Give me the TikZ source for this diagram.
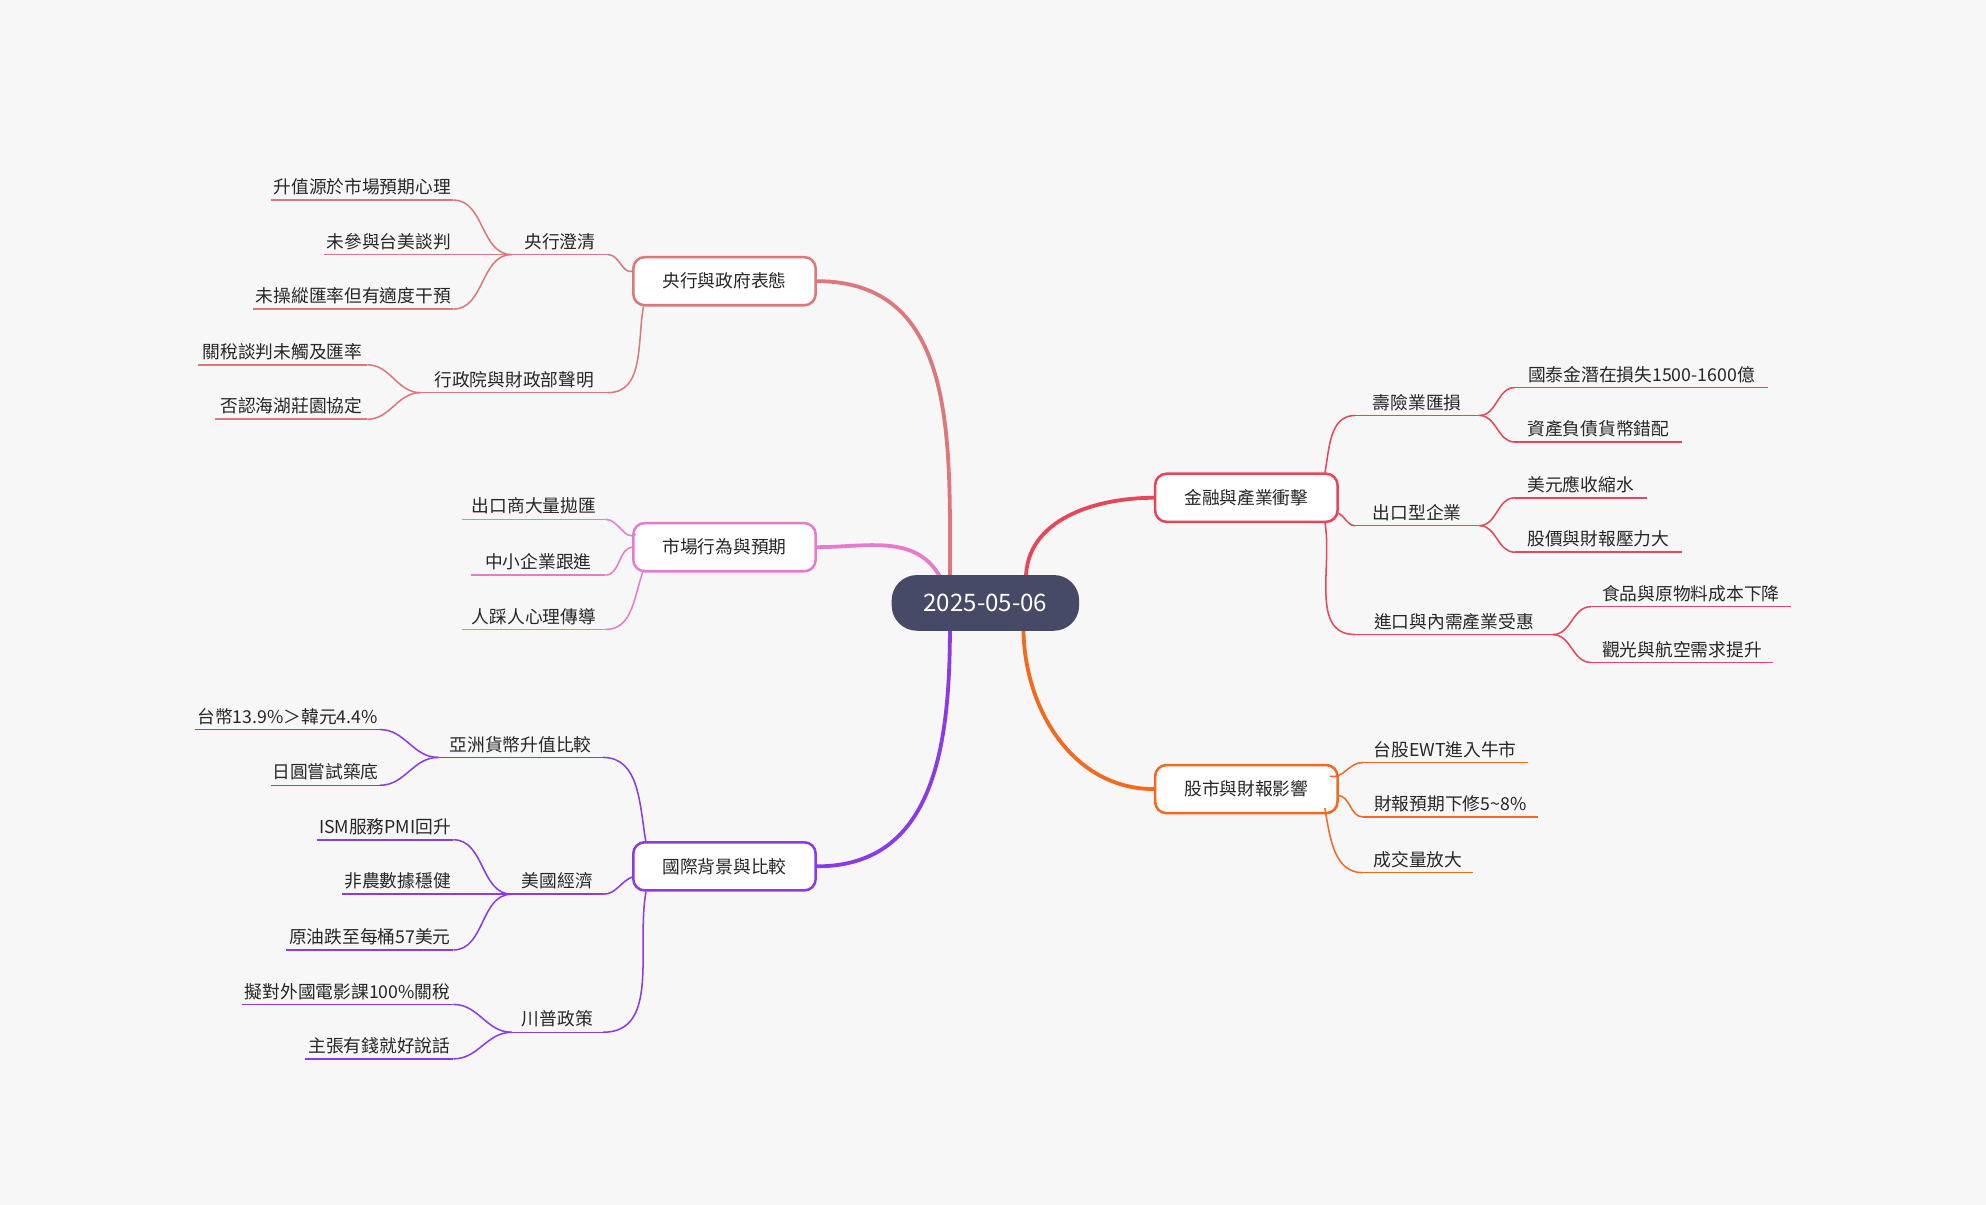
\documentclass[tikz,border=0pt]{standalone}
\usepackage{fontspec}
\setmainfont{Noto Sans CJK TC}
\definecolor{bg}{HTML}{F7F7F7}
\definecolor{rootc}{HTML}{474A66}
\definecolor{ca}{HTML}{DC777B}
\definecolor{cb}{HTML}{E67BCB}
\definecolor{cc}{HTML}{8A3BE6}
\definecolor{cd}{HTML}{E5465A}
\definecolor{ce}{HTML}{F3691F}
\tikzset{
 lbl/.style={font=\fontsize{14}{16}\selectfont, text=black!85, inner sep=0pt, anchor=base},
 mainbox/.style={draw, line width=2pt, rounded corners=9pt, fill=white, minimum width=144pt, minimum height=38pt, font=\fontsize{14}{16}\selectfont, text=black!85},
 ln/.style={line width=1.2pt},
}
% color, name, text, xl, xr, yline
\newcommand\lf[6]{%
 \coordinate (#2l) at (#4,#6); \coordinate (#2r) at (#5,#6);
 \node[lbl] (#2) at ({(#4+#5)/2},#6-5) {#3};
 \draw[ln,#1] (#2l) -- (#2r);}
\newcommand\cv[3]{\draw[ln,#1] (#2) to[out=0,in=180] (#3);}
\begin{document}
\begin{tikzpicture}[x=1pt,y=-1pt]
\fill[bg] (0,0) rectangle (1568,951);
\useasboundingbox (0,0) rectangle (1568,951);
% main curves
\coordinate (rt1) at (750,457); \coordinate (rt2) at (742,455);
\coordinate (rt3) at (750,495); \coordinate (rt4) at (810,457); \coordinate (rt5) at (808,495);
\node[mainbox,draw=ca] (A) at (572,222) {央行與政府表態};
\node[mainbox,draw=cb] (B) at (572,432) {市場行為與預期};
\node[mainbox,draw=cc] (C) at (572,684) {國際背景與比較};
\node[mainbox,draw=cd] (D) at (984,393) {金融與產業衝擊};
\node[mainbox,draw=ce] (E) at (984,623) {股市與財報影響};
\draw[ca,line width=3pt] (A.east) to[out=0,in=90,looseness=1.1] (rt1);
\draw[cb,line width=3pt] (B.east) to[out=0,in=120] (rt2);
\draw[cc,line width=3pt] (C.east) to[out=0,in=-90,looseness=1.1] (rt3);
\draw[cd,line width=3pt] (D.west) to[out=180,in=90] (rt4);
\draw[ce,line width=3pt] (E.west) to[out=180,in=-90] (rt5);
\node[fill=rootc, rounded corners=20pt, minimum width=148pt, minimum height=44pt, text=white, font=\fontsize{19}{22}\selectfont] (R) at (778,476) {2025-05-06};
% A
\coordinate (Aa) at (500,214); \coordinate (Ab) at (508,242);
\lf{ca}{a1}{央行澄清}{404}{480}{201}
\lf{ca}{a11}{升值源於市場預期心理}{214}{358}{158}
\lf{ca}{a12}{未參與台美談判}{256}{358}{201}
\lf{ca}{a13}{未操縱匯率但有適度干預}{200}{358}{244}
\cv{ca}{a11r}{a1l}\cv{ca}{a12r}{a1l}\cv{ca}{a13r}{a1l}
\draw[ln,ca] (a1r) to[out=0,in=200] (Aa);
\lf{ca}{a2}{行政院與財政部聲明}{332}{480}{310}
\lf{ca}{a21}{關稅談判未觸及匯率}{156}{290}{288}
\lf{ca}{a22}{否認海湖莊園協定}{170}{290}{331}
\cv{ca}{a21r}{a2l}\cv{ca}{a22r}{a2l}
\draw[ln,ca] (a2r) to[out=0,in=260] (Ab);
% B
\coordinate (Ba) at (502,422); \coordinate (Bb) at (500,432); \coordinate (Bc) at (508,450);
\lf{cb}{b1}{出口商大量拋匯}{365}{478}{410}
\lf{cb}{b2}{中小企業跟進}{372}{478}{454}
\lf{cb}{b3}{人踩人心理傳導}{365}{478}{497}
\draw[ln,cb] (b1r) to[out=0,in=210] (Ba);
\draw[ln,cb] (b2r) to[out=0,in=180] (Bb);
\draw[ln,cb] (b3r) to[out=0,in=250] (Bc);
% C
\coordinate (Ca) at (510,665); \coordinate (Cb) at (500,692); \coordinate (Cc) at (510,704);
\lf{cc}{c1}{亞洲貨幣升值比較}{346}{476}{598}
\lf{cc}{c11}{台幣13.9\%＞韓元4.4\%}{154}{300}{576}
\lf{cc}{c12}{日圓嘗試築底}{214}{300}{620}
\cv{cc}{c11r}{c1l}\cv{cc}{c12r}{c1l}
\draw[ln,cc] (c1r) to[out=0,in=100] (Ca);
\lf{cc}{c2}{美國經濟}{404}{476}{706}
\lf{cc}{c21}{ISM服務PMI回升}{250}{358}{663}
\lf{cc}{c22}{非農數據穩健}{270}{358}{706}
\lf{cc}{c23}{原油跌至每桶57美元}{226}{358}{750}
\cv{cc}{c21r}{c2l}\cv{cc}{c22r}{c2l}\cv{cc}{c23r}{c2l}
\draw[ln,cc] (c2r) to[out=0,in=200] (Cb);
\lf{cc}{c3}{川普政策}{404}{476}{815}
\lf{cc}{c31}{擬對外國電影課100\%關稅}{191}{358}{793}
\lf{cc}{c32}{主張有錢就好說話}{241}{358}{836}
\cv{cc}{c31r}{c3l}\cv{cc}{c32r}{c3l}
\draw[ln,cc] (c3r) to[out=0,in=260] (Cc);
% D
\coordinate (Da) at (1046,374); \coordinate (Db) at (1056,405); \coordinate (Dc) at (1046,412);
\lf{cd}{d1}{壽險業匯損}{1070}{1168}{328}
\lf{cd}{d11}{國泰金潛在損失1500-1600億}{1196}{1396}{306}
\lf{cd}{d12}{資產負債貨幣錯配}{1196}{1328}{349}
\draw[ln,cd] (Da) to[out=80,in=180] (d1l);
\draw[ln,cd] (d1r) to[out=0,in=180] (d11l); \draw[ln,cd] (d1r) to[out=0,in=180] (d12l);
\lf{cd}{d2}{出口型企業}{1070}{1168}{415}
\lf{cd}{d21}{美元應收縮水}{1196}{1300}{393}
\lf{cd}{d22}{股價與財報壓力大}{1196}{1328}{436}
\draw[ln,cd] (Db) to[out=-20,in=180] (d2l);
\draw[ln,cd] (d2r) to[out=0,in=180] (d21l); \draw[ln,cd] (d2r) to[out=0,in=180] (d22l);
\lf{cd}{d3}{進口與內需產業受惠}{1070}{1226}{501}
\lf{cd}{d31}{食品與原物料成本下降}{1256}{1414}{479}
\lf{cd}{d32}{觀光與航空需求提升}{1256}{1400}{523}
\draw[ln,cd] (Dc) to[out=-80,in=180] (d3l);
\draw[ln,cd] (d3r) to[out=0,in=180] (d31l); \draw[ln,cd] (d3r) to[out=0,in=180] (d32l);
% E
\coordinate (Ea) at (1050,613); \coordinate (Eb) at (1056,628); \coordinate (Ec) at (1046,638);
\lf{ce}{e1}{台股EWT進入牛市}{1076}{1206}{602}
\lf{ce}{e2}{財報預期下修5\textasciitilde8\%}{1076}{1214}{645}
\lf{ce}{e3}{成交量放大}{1076}{1163}{689}
\draw[ln,ce] (Ea) to[out=-10,in=180] (e1l);
\draw[ln,ce] (Eb) to[out=0,in=180] (e2l);
\draw[ln,ce] (Ec) to[out=-80,in=180] (e3l);
\end{tikzpicture}
\end{document}
